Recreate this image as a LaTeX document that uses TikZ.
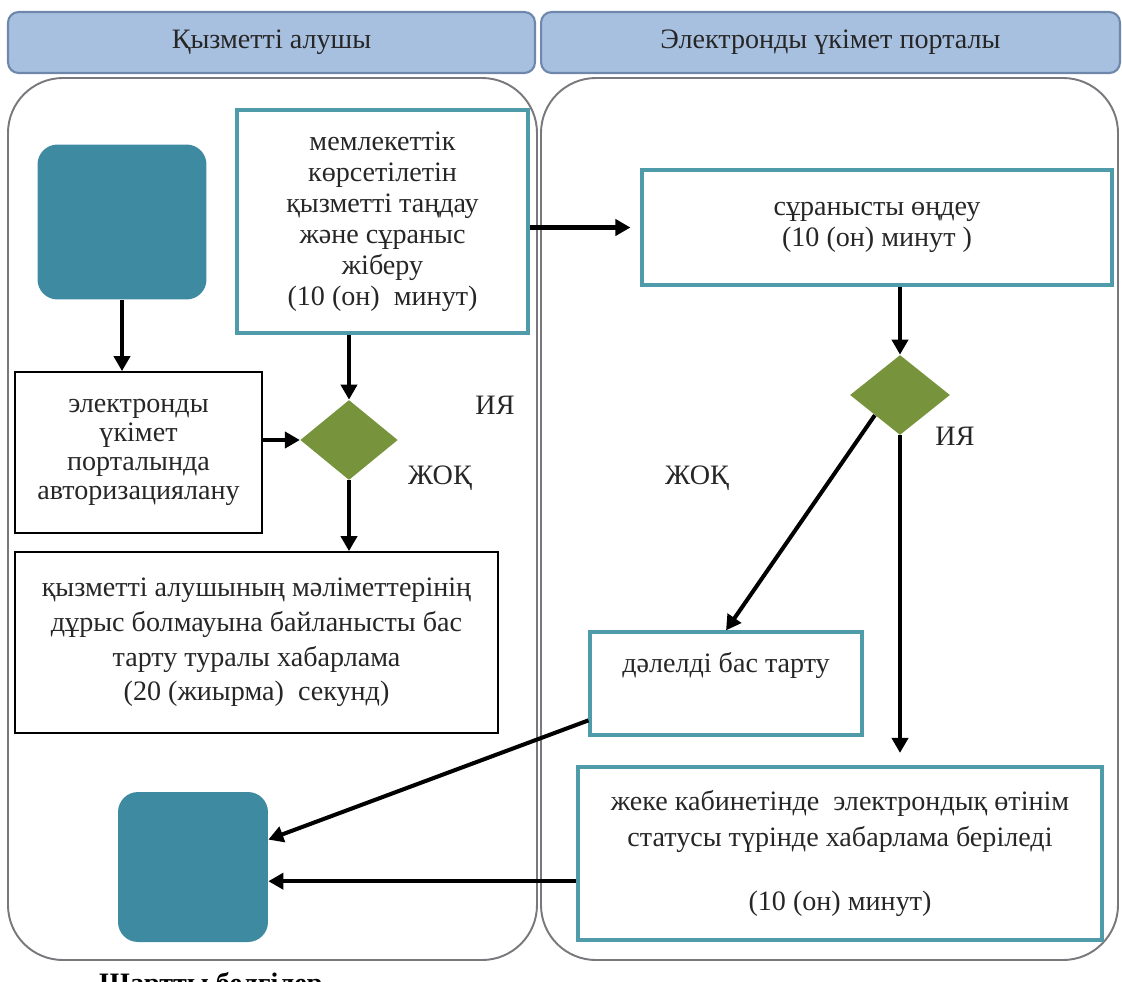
\documentclass[tikz,border=0pt]{standalone}
\usepackage{fontspec}
\setmainfont{Liberation Serif}
\usetikzlibrary{shapes.geometric,arrows.meta}

\definecolor{laneblue}{RGB}{168,192,224}
\definecolor{headerline}{RGB}{110,135,170}
\definecolor{laneline}{RGB}{120,120,125}
\definecolor{termteal}{RGB}{62,138,161}
\definecolor{boxteal}{RGB}{80,155,170}
\definecolor{decgreen}{RGB}{119,147,60}
\definecolor{textgrey}{RGB}{38,38,38}

\begin{document}
\begin{tikzpicture}[
	x=0.02cm, y=-0.02cm,
	every node/.style = {font=\fontsize{16}{17.6}\selectfont, text=textgrey, align=center},
	header/.style = {draw=headerline, line width=1.2pt, fill=laneblue, rounded corners=6pt, minimum height=1.22cm},
	lane/.style = {draw=laneline, line width=1.1pt, rounded corners=1.1cm},
	terminal/.style = {fill=termteal, rounded corners=0.4cm},
	tealbox/.style = {draw=boxteal, line width=1.8pt},
	plainbox/.style = {draw=black, line width=1pt},
	decision/.style = {diamond, fill=decgreen, inner sep=0pt, minimum width=1.95cm, minimum height=1.6cm},
	arr/.style = {-{Triangle[length=0.3cm, width=0.32cm]}, line width=2.3pt, black},
]
	\useasboundingbox (0,0) rectangle (1122,981);

	% swimlanes
	\node [header, minimum width=10.54cm] (hdrclient) at (271.5,42.5) {Қызметті алушы};
	\node [header, minimum width=11.58cm] (hdrportal) at (830.5,42.5) {Электронды үкімет порталы};
	\draw [lane] (8,78) rectangle (537,960);
	\draw [lane] (541,78) rectangle (1118,960);

	% client lane
	\node [terminal, minimum width=3.38cm, minimum height=3.1cm] (start) at (122,222) {};
	\node [tealbox, minimum width=5.82cm, minimum height=4.46cm] (choose) at (382.5,221.5)
		{мемлекеттік\\көрсетілетін\\қызметті таңдау\\және сұраныс\\жіберу\\(10 (он)~ минут)};
	\node [plainbox, minimum width=4.94cm, minimum height=3.22cm, font=\fontsize{16}{16.4}\selectfont] (auth) at (138.5,452.5)
		{электронды\\үкімет\\порталында\\авторизациялану};
	\node [decision] (check) at (349,440) {};
	\node [plainbox, minimum width=9.66cm, minimum height=3.62cm, font=\fontsize{16}{19.8}\selectfont] (deny) at (256.5,642.5)
		{қызметті алушының мәліметтерінің\\дұрыс болмауына байланысты бас\\тарту туралы хабарлама\\(20 (жиырма)~ секунд)};
	\node [terminal, minimum width=3cm, minimum height=3cm] (finish) at (193,867) {};

	% portal lane
	\node [tealbox, minimum width=9.4cm, minimum height=2.3cm] (process) at (877,227.5)
		{сұранысты өңдеу\\(10 (он) минут )};
	\node [decision, minimum width=2cm] (verify) at (900,395) {};
	\node [tealbox, minimum width=5.44cm, minimum height=2.06cm] (refuse) at (726,683.5) {};
	\node (refusetext) at (726,665) {дәлелді бас тарту};
	\node [tealbox, minimum width=10.48cm, minimum height=3.46cm, font=\fontsize{16}{20.4}\selectfont] (result) at (840,853.5)
		{жеке кабинетінде~ электрондық өтінім\\статусы түрінде хабарлама беріледі\\[0.55cm](10 (он) минут)};

	% answers
	\node (yes1) at (495,405) {ИЯ};
	\node (no1) at (440,478) {ЖОҚ};
	\node (no2) at (697,478) {ЖОҚ};
	\node (yes2) at (955,436) {ИЯ};

	% arrows
	\draw [arr] (start.south) -- (start.south |- auth.north);
	\draw [arr] (check.north |- choose.south) -- (check.north);
	\draw [arr] (auth.east |- check.west) -- (check.west);
	\draw [arr] (check.south) -- (check.south |- deny.north);
	\draw [arr, shorten >=0.2cm] (choose.east |- process.west) -- (process.west);
	\draw [arr] (verify.north |- process.south) -- (verify.north);
	\draw [arr] (verify.south west) -- (refuse.north);
	\draw [arr, shorten >=0.25cm] (verify.south) -- (verify.south |- result.north);
	\draw [arr] (refuse.195) -- (finish.20);
	\draw [arr] (result.186) -- (finish.east |- result.186);

	% cut off legend title
	\begin{scope}
		\clip (0,0) rectangle (1122,981);
		\node [anchor=base west, font=\fontsize{16}{17.6}\selectfont\bfseries, text=black] (legend) at (93,992) {Шартты белгілер};
	\end{scope}
\end{tikzpicture}
\end{document}
